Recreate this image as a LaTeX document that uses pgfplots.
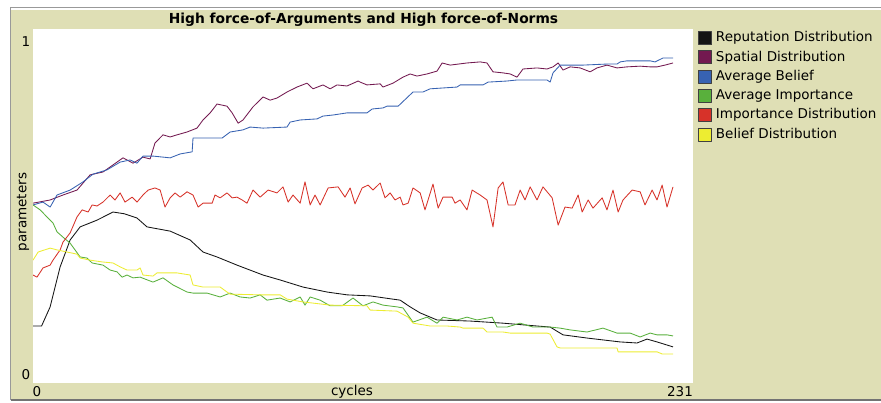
\documentclass[border=0pt]{standalone}
\usepackage{fontspec}
\setmainfont{DejaVu Sans}
\usepackage{pgfplots}
\pgfplotsset{compat=1.18}
\definecolor{bgk}{RGB}{223,223,181}
\definecolor{cRep}{RGB}{20,20,20}
\definecolor{cSpa}{RGB}{115,25,80}
\definecolor{cBel}{RGB}{55,98,178}
\definecolor{cImp}{RGB}{89,176,60}
\definecolor{cIDi}{RGB}{215,50,41}
\definecolor{cBDi}{RGB}{237,237,49}
\begin{document}
\begin{tikzpicture}[x=1pt,y=1pt]
\path[use as bounding box] (0,0) rectangle (881,403);
\fill[white] (0,0) rectangle (881,403);
\fill[bgk] (11,4) rectangle (881,393);
\draw[gray!80, line width=1pt] (10.5,2.5) -- (10.5,395.5) -- (881,395.5);
\draw[gray!90!black, line width=1.5pt] (10.5,3) -- (881,3);
\fill[white] (33,20) rectangle (693,374);
\node[font=\bfseries\fontsize{13.8}{16}\selectfont] at (363.5,383) {High force-of-Arguments and High force-of-Norms};
\node[font=\fontsize{13.5}{15}\selectfont] at (26,361) {1};
\node[font=\fontsize{13.5}{15}\selectfont] at (26,28) {0};
\node[font=\fontsize{13.5}{15}\selectfont] at (37,11) {0};
\node[font=\fontsize{13.5}{15}\selectfont] at (680,11) {231};
\node[font=\fontsize{13.5}{15}\selectfont] at (352,11) {cycles};
\node[font=\fontsize{13.5}{15}\selectfont, rotate=90] at (23,191) {parameters};
\begin{axis}[
  at={(33pt,20pt)}, anchor=south west, scale only axis,
  width=660pt, height=354pt,
  xmin=0, xmax=231, ymin=0, ymax=1,
  axis lines=none, ticks=none,
  every axis plot/.append style={line width=0.85pt, line join=round},
  legend cell align=left,
  legend image code/.code={\draw[#1, fill, draw=black!75, line width=0.8pt] (0pt,-6.5pt) rectangle (13pt,6.5pt); \path (17pt,0pt);},
  legend style={at={(axis description cs:1.0075,0.9945)}, anchor=north west, draw=none, fill=none, inner sep=0pt,
    font=\fontsize{13.5}{15}\selectfont, row sep=5.5pt,
    nodes={inner sep=0pt, text height=10.5pt, text depth=3pt}},
]
\addplot[color=cRep] coordinates {(0,0.161)(3,0.161)(6,0.215)(9.5,0.328)(13,0.404)(16.5,0.441)(22.4,0.460)(28,0.483)(32,0.478)(36.4,0.466)(39.9,0.441)(48,0.429)(55,0.404)(59.5,0.370)(64.4,0.356)(71.4,0.333)(80.5,0.305)(86.5,0.291)(94.5,0.271)(102.9,0.257)(109.9,0.249)(118,0.246)(128.5,0.234)(132,0.215)(135.5,0.198)(141.4,0.178)(153,0.175)(164.5,0.169)(176.4,0.161)(181,0.158)(185.5,0.136)(193.9,0.127)(205.5,0.116)(211.4,0.113)(214.9,0.124)(218.4,0.116)(224,0.102)};
\addlegendentry{Reputation Distribution}
\addplot[color=cSpa] coordinates {(0,0.508)(6,0.517)(10.5,0.531)(15.4,0.545)(20,0.588)(24.5,0.596)(28,0.616)(31.5,0.636)(35,0.621)(38.5,0.638)(41,0.633)(42.7,0.678)(45.5,0.701)(48,0.695)(50.4,0.701)(53.9,0.709)(57.4,0.720)(59.5,0.743)(62,0.763)(64.4,0.788)(67.9,0.782)(69.7,0.763)(71.8,0.734)(73.5,0.743)(77,0.780)(80.5,0.808)(83,0.799)(85.4,0.805)(88.9,0.822)(92.4,0.836)(95.9,0.847)(98,0.831)(101.5,0.842)(104,0.831)(106.4,0.842)(109.9,0.839)(113.8,0.853)(114.5,0.850)(116.9,0.842)(121.5,0.845)(122.5,0.836)(126,0.847)(129.5,0.864)(132,0.873)(134.4,0.867)(137.9,0.873)(141.4,0.881)(143.2,0.904)(146,0.898)(151.9,0.904)(156.5,0.907)(158.9,0.904)(161,0.879)(164.5,0.876)(167,0.873)(169.4,0.864)(170.5,0.876)(171.5,0.887)(176.4,0.890)(179.9,0.887)(182,0.893)(183.8,0.904)(185.5,0.884)(188,0.893)(191.5,0.890)(195,0.879)(197.4,0.890)(200.9,0.898)(204.4,0.890)(207.9,0.893)(212.5,0.895)(216,0.893)(218.4,0.893)(221.2,0.898)(224,0.904)};
\addlegendentry{Spatial Distribution}
\addplot[color=cBel] coordinates {(0,0.503)(3.5,0.511)(6,0.497)(8.4,0.531)(13,0.545)(17.5,0.568)(21,0.590)(25.9,0.602)(30.5,0.624)(34,0.630)(36.4,0.621)(38.5,0.641)(42,0.641)(48,0.636)(51.5,0.647)(55.7,0.653)(56,0.692)(66.2,0.692)(69,0.709)(73.5,0.715)(76,0.723)(80.5,0.720)(88.9,0.723)(90,0.737)(93.5,0.743)(99.4,0.746)(101.5,0.754)(105,0.757)(109.9,0.763)(116.9,0.763)(118.7,0.774)(122.5,0.777)(123.9,0.782)(127.8,0.782)(133,0.822)(136.5,0.822)(139,0.831)(148.4,0.836)(149.5,0.842)(157.5,0.842)(159.3,0.850)(165.9,0.853)(169.4,0.856)(179.9,0.856)(181,0.850)(182,0.876)(184.5,0.898)(192.5,0.898)(200.9,0.901)(204.4,0.901)(205.5,0.907)(207.9,0.910)(216,0.910)(217.7,0.907)(220.5,0.918)(224,0.918)};
\addlegendentry{Average Belief}
\addplot[color=cImp] coordinates {(0,0.503)(2.5,0.489)(4.9,0.469)(7,0.452)(8.4,0.427)(10.5,0.412)(13,0.395)(16.5,0.356)(18.9,0.353)(20.7,0.339)(24.5,0.333)(27,0.319)(29.4,0.314)(31.2,0.299)(32.9,0.305)(35,0.297)(37.5,0.299)(42,0.285)(45.5,0.297)(49,0.277)(53.9,0.257)(56,0.254)(60.9,0.254)(65.5,0.243)(69,0.254)(72.5,0.243)(76,0.240)(79.5,0.249)(81.9,0.234)(86.5,0.240)(90,0.229)(93.5,0.243)(95.2,0.220)(97,0.243)(100.5,0.234)(104,0.218)(108.2,0.218)(112,0.240)(115.5,0.218)(119,0.229)(122.5,0.220)(127.4,0.215)(129.5,0.212)(133,0.172)(137.9,0.186)(141.4,0.169)(143.5,0.186)(148.4,0.178)(151.9,0.186)(155.4,0.178)(160.7,0.186)(162.4,0.158)(165.9,0.158)(170.5,0.169)(175,0.158)(181,0.158)(184.5,0.155)(188,0.150)(193.9,0.144)(199.5,0.155)(204.4,0.141)(209,0.141)(212.5,0.130)(216,0.141)(218.4,0.136)(221.9,0.136)(224,0.133)};
\addlegendentry{Average Importance}
\addplot[color=cIDi] coordinates {(0,0.305)(1.4,0.299)(3.5,0.325)(6,0.333)(7,0.347)(9.5,0.376)(10.5,0.398)(13,0.424)(15.4,0.469)(17.2,0.489)(19.3,0.483)(20.7,0.503)(22.4,0.500)(24.5,0.511)(27,0.531)(28.7,0.517)(30.5,0.537)(32.2,0.511)(34.7,0.525)(36.4,0.511)(38.5,0.531)(40.3,0.545)(42.7,0.551)(44.5,0.545)(46.2,0.497)(48,0.523)(49.7,0.537)(51.5,0.525)(53.9,0.540)(56,0.531)(57.8,0.497)(59.5,0.508)(62.7,0.508)(63.7,0.531)(65.5,0.523)(67.9,0.537)(69.7,0.523)(71.4,0.525)(73.2,0.517)(74.9,0.508)(77,0.545)(79.5,0.525)(82.3,0.545)(85.4,0.537)(87.5,0.554)(89.3,0.511)(91,0.531)(93.5,0.508)(95.2,0.568)(97,0.503)(98.7,0.531)(100.5,0.503)(103.3,0.551)(106.8,0.554)(109.2,0.525)(111,0.551)(112.7,0.506)(115.2,0.551)(117.3,0.559)(119,0.545)(121.5,0.565)(123.2,0.523)(125,0.537)(126.7,0.517)(128.5,0.525)(129.5,0.503)(131.3,0.508)(133,0.551)(135.5,0.537)(137.2,0.489)(140,0.562)(141.8,0.494)(143.5,0.525)(146.7,0.525)(147.7,0.508)(149.5,0.517)(151.9,0.489)(153.7,0.545)(156.5,0.531)(158.9,0.517)(161,0.441)(162.8,0.551)(164.5,0.568)(166.3,0.503)(168.7,0.503)(170.5,0.545)(172.2,0.517)(174,0.554)(176.4,0.517)(178.5,0.554)(181.7,0.523)(183.8,0.446)(186.2,0.497)(188.7,0.494)(190.8,0.531)(192.2,0.483)(194.3,0.517)(196,0.494)(199.2,0.523)(200.9,0.489)(203,0.545)(204.8,0.483)(206.5,0.517)(209.7,0.545)(212.5,0.540)(214.2,0.503)(216.7,0.545)(218.4,0.517)(220.2,0.559)(221.9,0.497)(224,0.554)};
\addlegendentry{Importance Distribution}
\addplot[color=cBDi] coordinates {(0,0.347)(1.8,0.370)(6,0.381)(8.4,0.376)(11.9,0.370)(15.4,0.364)(16.5,0.353)(20,0.347)(24.2,0.342)(28,0.339)(30.5,0.328)(32.9,0.319)(36.4,0.319)(37.5,0.325)(38.5,0.305)(42,0.302)(43.4,0.311)(50.4,0.311)(55,0.305)(56,0.277)(59.5,0.271)(65.5,0.271)(67.9,0.257)(69,0.251)(79.5,0.249)(86.5,0.249)(88.9,0.237)(94.5,0.229)(104,0.220)(116.9,0.218)(118,0.206)(127.4,0.203)(131.3,0.186)(133,0.169)(139,0.161)(144.9,0.161)(149.5,0.158)(150.5,0.155)(157.5,0.155)(158.9,0.144)(164.5,0.144)(167,0.141)(179.9,0.141)(181,0.138)(183.4,0.102)(184.5,0.099)(204.4,0.099)(204.8,0.088)(218.4,0.088)(220.2,0.082)(224,0.082)};
\addlegendentry{Belief Distribution}
\end{axis}
\end{tikzpicture}
\end{document}
